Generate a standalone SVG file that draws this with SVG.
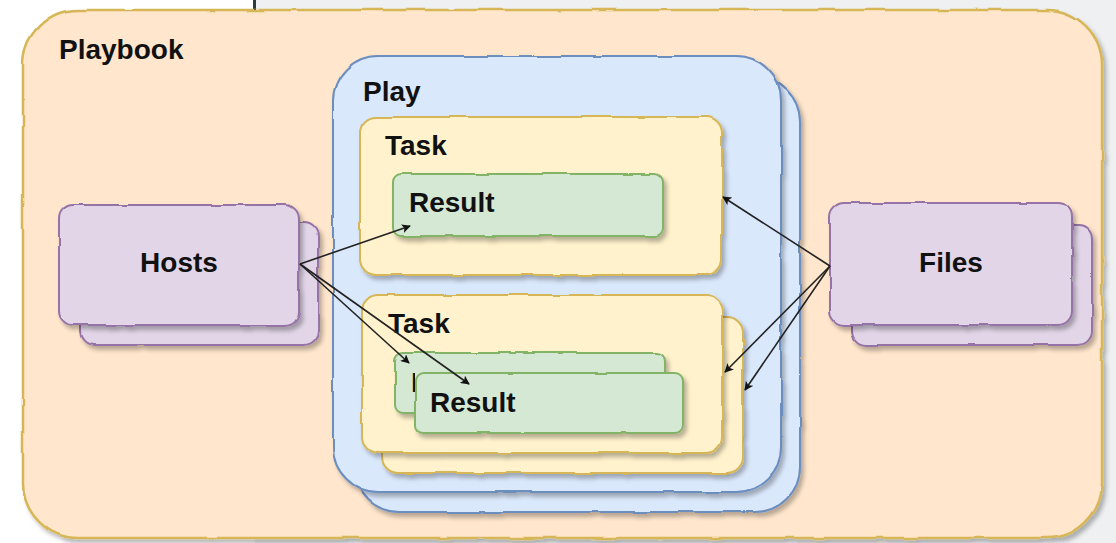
<svg xmlns="http://www.w3.org/2000/svg" width="1116" height="543" viewBox="0 0 1116 543">
<style>
.lbl{font-family:"Liberation Sans",Arial,sans-serif;font-weight:bold;font-size:28px;fill:#111}
.pb{fill:#ffe6cc;stroke:#d6b656;stroke-width:2.5}
.pl{fill:#dae8fc;stroke:#6c8ebf;stroke-width:2}
.tk{fill:#fff2cc;stroke:#d6b656;stroke-width:2}
.rs{fill:#d5e8d4;stroke:#82b366;stroke-width:2}
.hs{fill:#e1d5e7;stroke:#9673a6;stroke-width:2}
.cn{fill:none;stroke:#222;stroke-width:1.6}
</style>
<defs>
<filter id="sh" x="-10%" y="-10%" width="125%" height="125%">
<feTurbulence type="fractalNoise" baseFrequency="0.03" numOctaves="2" seed="3" result="n"/>
<feDisplacementMap in="SourceGraphic" in2="n" scale="3" xChannelSelector="R" yChannelSelector="G" result="d"/>
<feDropShadow in="d" dx="3" dy="4" stdDeviation="2" flood-color="#000" flood-opacity="0.28"/>
</filter>
<clipPath id="backclip">
<path d="M395,353 H665 V373 H415 V413 H395 Z"/>
</clipPath>
<marker id="ah" viewBox="0 0 10 10" refX="9" refY="5" markerWidth="9" markerHeight="9" markerUnits="userSpaceOnUse" orient="auto">
<path d="M0,0 L10,5 L0,10 L2.5,5 z" fill="#111"/>
</marker>
</defs>
<rect x="0" y="0" width="1116" height="543" fill="#ffffff"/>
<rect x="255" y="0" width="861" height="543" fill="#eef0f2"/>
<rect x="253" y="0" width="3" height="12" fill="#2d3a40"/>
<g id="playbook">
<rect class="pb" x="23" y="10" width="1079" height="528" rx="55" filter="url(#sh)"/>
<text class="lbl" x="59" y="59">Playbook</text>
</g>
<g id="play">
<rect class="pl" x="355" y="77" width="445" height="435" rx="45" filter="url(#sh)"/>
<rect class="pl" x="333" y="56" width="448" height="436" rx="45" filter="url(#sh)"/>
<text class="lbl" x="363" y="101">Play</text>
</g>
<g id="task1">
<rect class="tk" x="360" y="117" width="362" height="158" rx="16" filter="url(#sh)"/>
<text class="lbl" x="385" y="155">Task</text>
</g>
<g id="result1">
<rect class="rs" x="393" y="174" width="270" height="62" rx="8" filter="url(#sh)"/>
<text class="lbl" x="409" y="212">Result</text>
</g>
<g id="task2">
<rect class="tk" x="382" y="317" width="361" height="156" rx="16" filter="url(#sh)"/>
<rect class="tk" x="362" y="295" width="360" height="158" rx="16" filter="url(#sh)"/>
<text class="lbl" x="388" y="333">Task</text>
</g>
<g id="result2">
<rect class="rs" x="395" y="353" width="270" height="60" rx="8" filter="url(#sh)"/>
<text class="lbl" x="411" y="392" clip-path="url(#backclip)">Result</text>
<rect class="rs" x="415" y="373" width="268" height="60" rx="8" filter="url(#sh)"/>
<text class="lbl" x="430" y="412">Result</text>
</g>
<g id="hosts">
<rect class="hs" x="80" y="223" width="238" height="122" rx="14" filter="url(#sh)"/>
<rect class="hs" x="59" y="205" width="240" height="120" rx="14" filter="url(#sh)"/>
<text class="lbl" x="179" y="272" text-anchor="middle">Hosts</text>
</g>
<g id="files">
<rect class="hs" x="852" y="225" width="240" height="120" rx="14" filter="url(#sh)"/>
<rect class="hs" x="830" y="203" width="242" height="122" rx="14" filter="url(#sh)"/>
<text class="lbl" x="951" y="272" text-anchor="middle">Files</text>
</g>
<g id="connectors">
<path class="cn" d="M300,264 L410,226" marker-end="url(#ah)"/>
<path class="cn" d="M300,264 L409,363" marker-end="url(#ah)"/>
<path class="cn" d="M300,264 L469,384" marker-end="url(#ah)"/>
<path class="cn" d="M830,266 L723,197" marker-end="url(#ah)"/>
<path class="cn" d="M830,266 L725,372" marker-end="url(#ah)"/>
<path class="cn" d="M830,266 L745,390" marker-end="url(#ah)"/>
</g>
</svg>
